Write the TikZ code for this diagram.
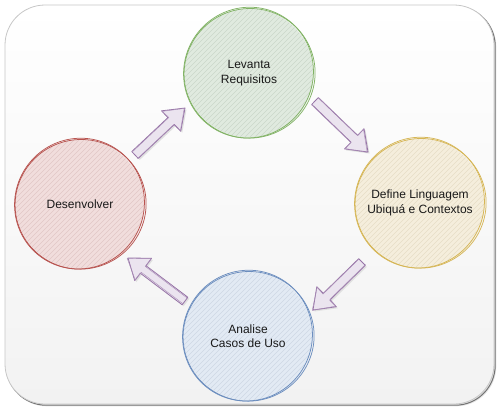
\documentclass[tikz,border=0pt]{standalone}
\usepackage{fontspec}
\setmainfont{Liberation Sans}
\usetikzlibrary{calc}
\definecolor{gstroke}{HTML}{82B366}\definecolor{gfill}{HTML}{D5E8D4}
\definecolor{ystroke}{HTML}{D6B656}\definecolor{yfill}{HTML}{FFF2CC}
\definecolor{rstroke}{HTML}{B85450}\definecolor{rfill}{HTML}{F8CECC}
\definecolor{bstroke}{HTML}{6C8EBF}\definecolor{bfill}{HTML}{DAE8FC}
\definecolor{pstroke}{HTML}{9673A6}\definecolor{pfill}{HTML}{E1D5E7}
\definecolor{bgbottom}{HTML}{F2F2F2}
\definecolor{bgmid}{HTML}{EBEBEB}
\tikzset{
  stage/.style={circle, minimum size=130pt, inner sep=0pt, align=center,
    font=\fontsize{12}{14.5}\selectfont, text=black!90},
  sketchline/.style={line width=0.75pt},
  flow/.style={draw=pstroke, line width=0.8pt, fill=pfill!65!white, line join=round},
  flowsketch/.style={draw=pstroke!80, line width=0.45pt, line join=round},
}
% sketchy circle: #1 centre coordinate, #2 stroke, #3 fill
\newcommand{\sketchcircle}[3]{%
  \fill[#3!50!bgmid] (#1) circle[radius=64.5];
  \begin{scope}
    \clip (#1) circle[radius=64.5];
    \foreach \i in {-150,-145,...,150}
      \draw[#3!85!black!90, line width=0.4pt, opacity=0.6] ($(#1)+(\i-75,75)$) -- ++(150,-150);
  \end{scope}
  \draw[#2, sketchline] ($(#1)+(0.6,0.3)$) circle[x radius=65.6, y radius=64.7, rotate=20];
  \draw[#2, sketchline] ($(#1)+(-0.5,-0.4)$) circle[x radius=64.5, y radius=65.8, rotate=-35];
}
% block arrow from tail #1 to tip #2
\newcommand{\blockarrow}[2]{%
  \path ($(#2)!19pt!(#1)$) coordinate (hb);
  \fill[black!12] ($(#1)!4.7pt!90:(#2)+(1.5,1.5)$) -- ($(hb)!4.7pt!-90:(#1)+(1.5,1.5)$) -- ($(hb)!14pt!-90:(#1)+(1.5,1.5)$)
      -- ($(#2)+(1.5,1.5)$) -- ($(hb)!14pt!90:(#1)+(1.5,1.5)$) -- ($(hb)!4.7pt!90:(#1)+(1.5,1.5)$)
      -- ($(#1)!4.7pt!-90:(#2)+(1.5,1.5)$) -- cycle;
  \draw[flow] ($(#1)!4.7pt!90:(#2)$) -- ($(hb)!4.7pt!-90:(#1)$) -- ($(hb)!14pt!-90:(#1)$)
      -- (#2) -- ($(hb)!14pt!90:(#1)$) -- ($(hb)!4.7pt!90:(#1)$)
      -- ($(#1)!4.7pt!-90:(#2)$) -- cycle;
  \draw[flowsketch] ($(#1)!4.2pt!90:(#2)+(0.6,-0.5)$) -- ($(hb)!4.2pt!-90:(#1)+(0.6,-0.5)$) -- ($(hb)!13.2pt!-90:(#1)$)
      -- ($(#2)+(-0.8,0.4)$) -- ($(hb)!13.5pt!90:(#1)$) -- ($(hb)!4.4pt!90:(#1)+(-0.5,0.5)$)
      -- ($(#1)!4.4pt!-90:(#2)+(-0.5,0.5)$);
}
\begin{document}
\begin{tikzpicture}[x=1pt,y=-1pt]
\useasboundingbox (0,0) rectangle (502,413);
% background panel
\fill[black!10, rounded corners=40pt] (6.8,6.8) rectangle (496.3,406.3);
\draw[black!55, line width=1pt, rounded corners=40pt] (6.2,6.2) rectangle (495.2,405.2);
\shade[top color=white, bottom color=bgbottom, draw=black!22, line width=0.8pt, rounded corners=40pt]
  (5,5) rectangle (494,404);
% centres
\coordinate (c1) at (249,73);
\coordinate (c2) at (420,203);
\coordinate (c3) at (248,336);
\coordinate (c4) at (80,204);
\sketchcircle{c1}{gstroke}{gfill}
\sketchcircle{c2}{ystroke}{yfill}
\sketchcircle{c3}{bstroke}{bfill}
\sketchcircle{c4}{rstroke}{rfill}
\node[stage] (req) at (c1) {Levanta\\Requisitos};
\node[stage] (ling) at (c2) {Define Linguagem\\Ubiquá e Contextos};
\node[stage] (caso) at (c3) {Analise\\Casos de Uso};
\node[stage] (dev) at (c4) {Desenvolver};
% arrow end points
\coordinate (a1t) at (315,101); \coordinate (a1h) at (368,152);
\coordinate (a2t) at (362,262); \coordinate (a2h) at (313,310);
\coordinate (a3t) at (185,301); \coordinate (a3h) at (128,258);
\coordinate (a4t) at (135,155); \coordinate (a4h) at (185,108);
\blockarrow{a1t}{a1h}
\blockarrow{a2t}{a2h}
\blockarrow{a3t}{a3h}
\blockarrow{a4t}{a4h}
\end{tikzpicture}
\end{document}
